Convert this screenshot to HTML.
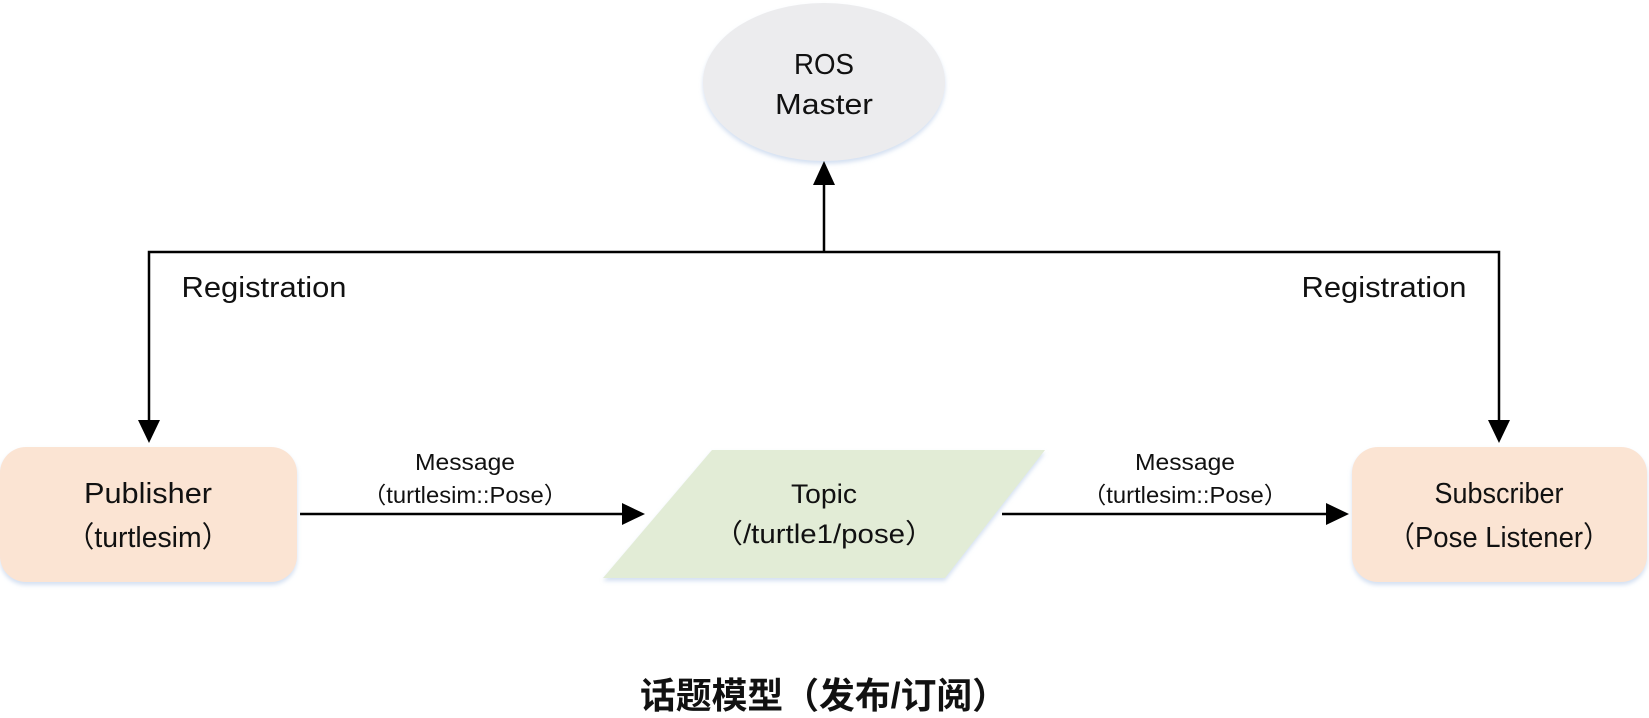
<!DOCTYPE html>
<html><head><meta charset="utf-8"><style>
html,body{margin:0;padding:0;background:#fff;}
svg text{font-family:"Liberation Sans","Noto Sans CJK SC",sans-serif;fill:#111;}
</style></head><body>
<svg width="1649" height="713" viewBox="0 0 1649 713" xmlns="http://www.w3.org/2000/svg">
<defs>
<filter id="s" x="-10%" y="-10%" width="120%" height="130%"><feDropShadow dx="0" dy="3" stdDeviation="2" flood-color="#c9d8ee" flood-opacity="0.8"/></filter>
</defs>
<ellipse cx="824" cy="82" rx="121" ry="79" fill="#ececee" filter="url(#s)"/>
<text x="824" y="74" font-size="29" text-anchor="middle" textLength="60" lengthAdjust="spacingAndGlyphs">ROS</text>
<text x="824" y="114" font-size="29" text-anchor="middle" textLength="98" lengthAdjust="spacingAndGlyphs">Master</text>
<g stroke="#000" stroke-width="2.5" fill="none">
<polyline points="149,420 149,252 1499,252 1499,420"/>
<line x1="824" y1="252" x2="824" y2="183"/>
<line x1="300" y1="514" x2="624" y2="514"/>
<line x1="1002" y1="514" x2="1328" y2="514"/>
</g>
<g fill="#000">
<path d="M813,185L824,161L835,185z"/>
<path d="M138,420L149,443L160,420z"/>
<path d="M1488,420L1499,443L1510,420z"/>
<path d="M622,503L645,514L622,525z"/>
<path d="M1326,503L1349,514L1326,525z"/>
</g>
<text x="264" y="297" font-size="29" text-anchor="middle" textLength="165" lengthAdjust="spacingAndGlyphs">Registration</text>
<text x="1384" y="297" font-size="29" text-anchor="middle" textLength="165" lengthAdjust="spacingAndGlyphs">Registration</text>
<rect x="0" y="447" width="297" height="135" rx="26" fill="#fbe4d3" filter="url(#s)"/>
<text x="148" y="503" font-size="29" text-anchor="middle" textLength="128" lengthAdjust="spacingAndGlyphs">Publisher</text>
<text x="148" y="547" font-size="29" text-anchor="middle" textLength="164" lengthAdjust="spacingAndGlyphs">（turtlesim）</text>
<rect x="1352" y="447" width="295" height="135" rx="26" fill="#fbe4d3" filter="url(#s)"/>
<text x="1499" y="503" font-size="29" text-anchor="middle" textLength="129" lengthAdjust="spacingAndGlyphs">Subscriber</text>
<text x="1499" y="547" font-size="29" text-anchor="middle" textLength="223" lengthAdjust="spacingAndGlyphs">（Pose Listener）</text>
<polygon points="712,450 1045,450 945,578 603,578" fill="#e2ecd6" filter="url(#s)"/>
<text x="824" y="503" font-size="27" text-anchor="middle" textLength="66" lengthAdjust="spacingAndGlyphs">Topic</text>
<text x="824" y="543" font-size="27" text-anchor="middle" textLength="221" lengthAdjust="spacingAndGlyphs">（/turtle1/pose）</text>
<text x="465" y="470" font-size="23" text-anchor="middle" textLength="100" lengthAdjust="spacingAndGlyphs">Message</text>
<text x="465" y="503" font-size="23" text-anchor="middle" textLength="205" lengthAdjust="spacingAndGlyphs">（turtlesim::Pose）</text>
<text x="1185" y="470" font-size="23" text-anchor="middle" textLength="100" lengthAdjust="spacingAndGlyphs">Message</text>
<text x="1185" y="503" font-size="23" text-anchor="middle" textLength="205" lengthAdjust="spacingAndGlyphs">（turtlesim::Pose）</text>
<text x="824" y="708" font-size="36" font-weight="bold" text-anchor="middle" textLength="368" lengthAdjust="spacingAndGlyphs">话题模型（发布/订阅）</text>
</svg>
</body></html>
